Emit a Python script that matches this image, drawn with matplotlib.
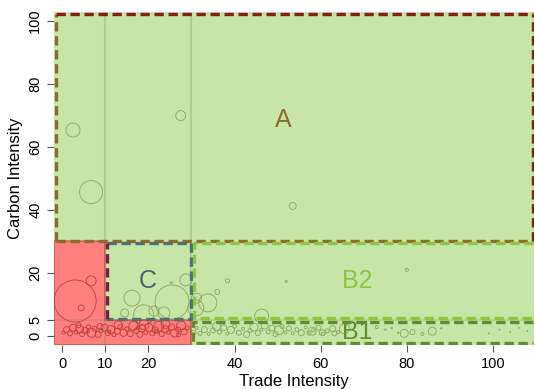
import matplotlib
matplotlib.use("Agg")
from matplotlib import pyplot as plt
from matplotlib.patches import Polygon, Rectangle

plt.rcParams['font.family'] = ['Liberation Sans', 'DejaVu Sans']

# Sector bubbles: trade intensity, carbon intensity, bubble diameter (px)
big_x = [2.5, 6.7, 27.5, 53.5, 3.0, 4.4, 6.7, 16.2, 25.5, 28.7, 14.5, 18.9, 21.3,
         23.6, 25.3, 31.2, 31.0, 33.8, 36.0, 38.4, 46.3, 52.0, 80.0]
big_y = [65.4, 45.7, 70.0, 41.3, 11.1, 8.9, 17.5, 12.0, 10.8, 17.8, 7.3, 6.7, 7.9,
         7.3, 17.0, 12.0, 8.9, 10.5, 14.0, 17.5, 6.3, 17.3, 21.0]
big_d = [14, 23, 10, 7, 42, 6, 10, 16, 34, 12, 8, 20, 10,
         12, 2, 10, 16, 18, 5, 4, 14, 2, 3]

low_x = [1.0, 1.8, 2.5, 3.2, 4.0, 4.6, 5.3, 6.1, 6.8, 7.5, 8.3, 9.0, 9.8, 10.6, 11.3,
         12.0, 12.8, 13.5, 14.2, 15.0, 15.8, 16.5, 17.2, 18.0, 18.6, 19.4, 20.1, 20.9,
         21.6, 22.4, 23.1, 23.9, 24.6, 25.4, 26.1, 26.9, 27.6, 28.3, 29.0, 0.3, 3.8,
         8.8, 13.0, 19.0, 24.0, 6.0, 11.0, 17.5, 22.0, 27.0,
         30.5, 31.2, 32.0, 33.0, 34.0, 35.0, 35.8, 36.5, 37.5, 38.3, 39.2, 40.0, 41.0,
         42.0, 42.8, 43.6, 44.5, 45.4, 46.2, 47.0, 47.8, 48.7, 49.5, 50.3, 51.0, 51.8,
         52.6, 53.5, 54.5, 55.5, 56.5, 57.3, 58.2, 59.5, 60.5, 61.5, 62.8, 64.0,
         58.0, 60.4, 63.2, 65.5, 73.0, 75.0, 76.5, 78.0, 79.4, 81.3, 83.6, 85.9, 88.0,
         99.0, 101.5, 104.0, 106.0, 108.0]
low_y = [2.0, 0.8, 2.6, 1.2, 2.2, 0.6, 1.8, 2.9, 1.0, 2.3, 0.5, 1.7, 2.6, 0.9, 2.0,
         0.4, 1.5, 2.8, 1.0, 2.2, 0.7, 3.2, 1.6, 0.5, 2.4, 1.1, 2.7, 0.8,
         1.9, 3.0, 0.6, 2.1, 1.2, 2.8, 0.9, 2.0, 3.3, 1.3, 2.5, 1.0, 3.4,
         3.0, 3.5, 3.6, 3.8, 1.4, 1.4, 2.6, 1.4, 0.3,
         1.0, 2.5, 0.8, 2.0, 0.6, 1.8, 3.0, 1.2, 2.6, 0.7, 1.9, 3.1, 1.0,
         2.3, 0.5, 1.7, 2.8, 0.9, 2.0, 3.3, 1.3, 2.5, 0.6, 1.8, 3.0, 1.1,
         2.4, 0.8, 2.0, 1.0, 2.7, 0.9, 1.8, 2.6, 0.7, 1.6, 2.3, 1.2,
         1.5, 1.0, 0.8, 2.3, 2.8, 2.0, 2.5, 1.0, 0.8, 1.2, 0.6, 1.5, 2.4,
         0.8, 2.0, 1.2, 2.6, 1.5]
low_d = [6, 5, 7, 4, 8, 5, 6, 4, 9, 5, 6, 4, 7, 5, 8,
         4, 6, 5, 7, 4, 6, 9, 5, 6, 7, 4, 8, 5,
         6, 10, 5, 7, 4, 6, 8, 5, 9, 6, 4, 3, 5,
         6, 8, 10, 9, 3, 3, 3, 4, 4,
         5, 3, 4, 6, 3, 5, 8, 4, 6, 3, 7, 4, 5,
         3, 6, 4, 8, 5, 3, 7, 4, 6, 5, 9, 4, 3,
         5, 3, 4, 6, 3, 4, 3, 5, 3, 4, 6, 3,
         8, 6, 5, 10, 3, 1.5, 1.5, 1.5, 8, 5, 3, 8, 1.5,
         1, 1, 1, 1, 1]

region_labels = ["A", "B2", "B1", "C"]
label_x = [51.2, 68.5, 68.5, 19.9]
label_y = [68.6, 17.5, 1.4, 17.5]
label_colors = ["#8B6B2E", "#8CC63F", "#5E8F2E", "#4F5F6E"]

x_ticks = [0, 10, 20, 40, 60, 80, 100]
y_ticks = [0, 5, 20, 40, 60, 80, 100]

x0, x1 = -1.9, 109.5
y0, y1 = -2.9, 102.9

fig = plt.figure(figsize=(5.35, 3.89), dpi=100)
ax = fig.add_axes([0.101, 0.113, 0.897, 0.856])

# bubbles go underneath the translucent zone fills
ax.scatter(big_x + low_x, big_y + low_y,
           s=[(d * 0.72) ** 2 for d in big_d + low_d],
           facecolors="none", edgecolors="#7c7c7c", linewidths=0.6, zorder=1)

green = "#91CD4E"
ax.add_patch(Rectangle((x0, 30), x1 - x0, y1 - 30, fc=green, ec="none", alpha=0.5, zorder=2))
ax.add_patch(Rectangle((10, 5), 20, 25, fc=green, ec="none", alpha=0.5, zorder=2))
ax.add_patch(Rectangle((30, y0), x1 - 30, 30 - y0, fc=green, ec="none", alpha=0.5, zorder=2))
red_zone = [(x0, y0), (x0, 30), (10, 30), (10, 5), (30, 5), (30, y0)]
ax.add_patch(Polygon(red_zone, closed=True, fc="#FF0000", ec="#B22222", lw=1.2, alpha=0.5, zorder=2))

# light grid lines
for gx in [10, 30]:
    ax.axvline(gx, color="#5E8F3A", alpha=0.25, lw=1.5, zorder=2.5)
ax.axhline(5, color="#808080", alpha=0.2, lw=1.5, zorder=2.5)

dash = dict(lw=2.4, dashes=(2.8, 1.4), zorder=3, solid_capstyle="butt")
# zone A
ax.plot([-1.5, -1.5], [30.2, 102.2], color="#8B6B2E", **dash)
ax.plot([-1.5, 109.2], [30.2, 30.2], color="#8B6B2E", **dash)
ax.plot([-1.5, 109.2], [102.2, 102.2], color="#8B1A1A", **dash)
ax.plot([109.2, 109.2], [30.2, 102.2], color="#8B1A1A", **dash)
# zone C
ax.plot([10.3, 29.9, 29.9, 10.3], [29.4, 29.4, 5.3, 5.3], color="#4F6F70", **dash)
ax.plot([10.3, 10.3], [5.3, 29.4], color="#6E2447", **dash)
# zone B2
ax.plot([109.2, 30.7, 30.7, 109.2], [29.4, 29.4, 5.6, 5.6], color="#8CC63F", **dash)
# zone B1
ax.plot([109.2, 30.3, 30.3, 109.2], [4.3, 4.3, -2.3, -2.3], color="#5E8F2E", **dash)

for lab, lx, ly, lc in zip(region_labels, label_x, label_y, label_colors):
    ax.text(lx, ly, lab, color=lc, fontsize=18, ha="center", va="center", zorder=4)

ax.set_xlim(x0, x1)
ax.set_ylim(y0, y1)
ax.set_xticks(x_ticks)
ax.set_yticks(y_ticks)
ax.set_yticklabels([str(v) for v in y_ticks], rotation=90, va="center")
ax.tick_params(labelsize=10.5, length=5, color="#555555", direction="out")
for side in ["top", "right", "left", "bottom"]:
    ax.spines[side].set_visible(False)
ax.set_xlabel("Trade Intensity", fontsize=12, labelpad=2)
ax.set_ylabel("Carbon Intensity", fontsize=12, labelpad=4)

fig.savefig("out.png", dpi=100)
